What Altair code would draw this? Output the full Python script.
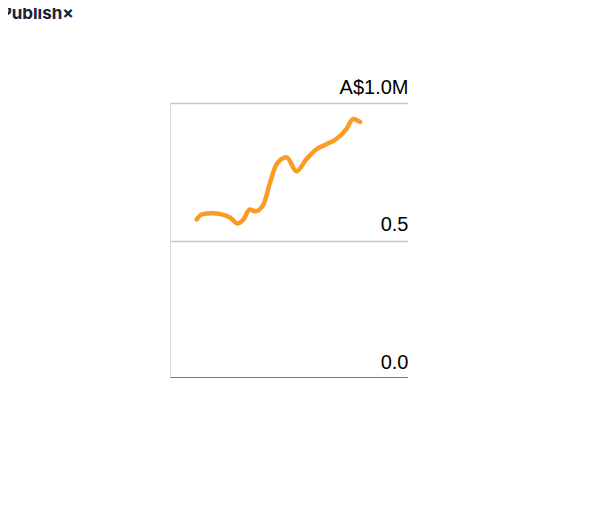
import altair as alt
import pandas as pd

years = [2017.0, 2017.29, 2017.87, 2018.45, 2018.92, 2019.38, 2019.72, 2020.07, 2020.42, 2020.88, 2021.23, 2021.64, 2022.22, 2022.8, 2023.38, 2023.96, 2024.54, 2025.12, 2025.7, 2026.1, 2026.5]
values = [0.577, 0.595, 0.599, 0.595, 0.584, 0.562, 0.577, 0.613, 0.606, 0.631, 0.704, 0.777, 0.803, 0.752, 0.796, 0.832, 0.850, 0.869, 0.905, 0.942, 0.931]
y_ticks = [0.0, 0.5, 1.0]
x_ticks = [2017.0, 2026.5]

df = pd.DataFrame({"year": years, "value": values})

x = alt.X("year:Q", scale=alt.Scale(domain=[2015.44, 2029.29], nice=False, zero=False),
          axis=alt.Axis(values=x_ticks, title=None, grid=False, domainColor="black", domainWidth=2,
                        tickColor="black", tickWidth=2, tickSize=12, labelFontSize=20, labelColor="black",
                        labelFont="Liberation Sans", labelPadding=14,
                        labelExpr="datum.value < 2020 ? ['Jan.', '2017'] : ['July', '2026']"))
y = alt.Y("value:Q", scale=alt.Scale(domain=[0, 1.0], nice=False),
          axis=alt.Axis(values=y_ticks, title=None, orient="right", domain=False, ticks=False,
                        grid=True, gridColor="#c8c8c8", gridWidth=1.3,
                        labelAlign="right", labelBaseline="bottom", labelOffset=-6, labelPadding=0,
                        labelFontSize=20, labelColor="black", labelFont="Liberation Sans",
                        labelExpr="datum.value == 1 ? 'A$1.0M' : format(datum.value, '.1f')"))

line = alt.Chart(df).mark_line(color="#F99B25", strokeWidth=4.5, interpolate="monotone",
                               strokeCap="round").encode(x=x, y=y)

src = alt.Chart(pd.DataFrame({"t": ["Source:Cotality"]})).mark_text(
    align="left", baseline="middle", fontSize=12, color="#5a6478", font="Inter"
).encode(x=alt.value(-146), y=alt.value(387), text="t:N")

chart = alt.layer(line, src).properties(
    width=238, height=275,
    autosize=alt.AutoSizeParams(type="none"),
    padding={"left": 162, "top": 95, "right": 0, "bottom": 0},
    title=alt.Title("Notestation AI Publish×", anchor="start", dx=-146, offset=54,
                    fontSize=17, font="Inter", fontWeight="bold", color="#1a2236"),
).configure_view(stroke=None).configure(background="white")

chart.save("out.html", embed_options={"renderer": "svg", "actions": False})
